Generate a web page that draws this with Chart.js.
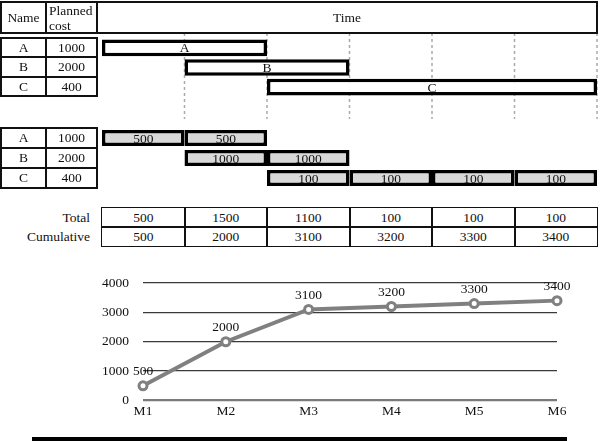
<!DOCTYPE html>
<html><head><meta charset="utf-8">
<script src="https://cdn.jsdelivr.net/npm/chart.js@4.4.1/dist/chart.umd.min.js"></script>
<style>
html,body{margin:0;padding:0;background:#fff;}
#root{position:relative;width:600px;height:441px;overflow:hidden;font-family:"Liberation Serif","Times New Roman",serif;font-size:13.5px;color:#111;}
.c{position:absolute;box-sizing:border-box;border:2px solid #111;display:flex;align-items:center;justify-content:center;line-height:1;}
.t{position:absolute;line-height:1;white-space:nowrap;}
canvas{position:absolute;left:0;}
</style></head><body><div id="root">
<canvas id="g1" width="600" height="86" style="top:33px"></canvas>
<canvas id="g2" width="600" height="70" style="top:123px"></canvas>
<canvas id="lc" width="600" height="170" style="top:260px"></canvas>
<div style="position:absolute;left:32px;top:437px;width:535px;height:4px;background:#000"></div>
</div>
<script>
// ---- data ----
const tasks = ['A', 'B', 'C'];
const plannedCost = [1000, 2000, 400];
const taskStart = [0, 1, 2];              // starting month index
const taskMonthly = [[500, 500], [1000, 1000], [100, 100, 100, 100]];
const months = ['M1', 'M2', 'M3', 'M4', 'M5', 'M6'];
const monthlyTotal = [500, 1500, 1100, 100, 100, 100];
const cumulative = [500, 2000, 3100, 3200, 3300, 3400];
const yTicks = [0, 1000, 2000, 3000, 4000];
const headers = ['Name', 'Planned<br>cost', 'Time'];
const rowLabels = ['Total', 'Cumulative'];

const FONT = '"Liberation Serif","Times New Roman",serif';
const root = document.getElementById('root');
function cell(x1, y1, x2, y2, html, extra) {
  const d = document.createElement('div');
  d.className = 'c';
  d.style.left = (x1 - 1) + 'px'; d.style.top = (y1 - 1) + 'px';
  d.style.width = (x2 - x1 + 2) + 'px'; d.style.height = (y2 - y1 + 2) + 'px';
  d.innerHTML = html;
  if (extra) Object.assign(d.style, extra);
  root.appendChild(d);
}
function text(x, y, html, align) {
  const d = document.createElement('div');
  d.className = 't';
  d.innerHTML = html;
  d.style.top = (y - 7) + 'px';
  if (align === 'right') { d.style.right = (600 - x) + 'px'; }
  else d.style.left = x + 'px';
  root.appendChild(d);
}
// header
cell(1, 2, 46, 33, headers[0]);
cell(46, 2, 97, 33, '<span style="line-height:15px">' + headers[1] + '</span>', {justifyContent: 'flex-start', paddingLeft: '2px'});
cell(97, 2, 597, 33, headers[2]);
// task tables
const rh1 = (96 - 38) / tasks.length, rh2 = (188 - 128) / tasks.length;
tasks.forEach((t, i) => {
  cell(1, 38 + i * rh1, 46, 38 + (i + 1) * rh1, t);
  cell(46, 38 + i * rh1, 97, 38 + (i + 1) * rh1, plannedCost[i]);
  cell(1, 128 + i * rh2, 46, 128 + (i + 1) * rh2, t);
  cell(46, 128 + i * rh2, 97, 128 + (i + 1) * rh2, plannedCost[i]);
});
// totals table
const X0 = 102, X1 = 597, colW = (X1 - X0) / months.length;
[monthlyTotal, cumulative].forEach((arr, r) => {
  arr.forEach((v, k) => cell(X0 + k * colW, 208 + r * 19, X0 + (k + 1) * colW, 208 + (r + 1) * 19, v, {borderWidth: '1.6px'}));
  text(90, 218 + r * 19, rowLabels[r], 'right');
});

// ---- charts ----
const barLabels = {
  id: 'barLabels',
  afterDatasetsDraw(chart) {
    const ctx = chart.ctx;
    ctx.save();
    ctx.font = '13.5px ' + FONT; ctx.fillStyle = '#111';
    ctx.textAlign = 'center'; ctx.textBaseline = 'middle';
    const ds = chart.data.datasets[0];
    chart.getDatasetMeta(0).data.forEach((el, j) => {
      const p = el.getCenterPoint();
      ctx.fillText(ds.data[j].lbl, p.x, p.y + 1);
    });
    ctx.restore();
  }
};
const dashLines = {
  id: 'dashLines',
  beforeDatasetsDraw(chart) {
    const ctx = chart.ctx, xs = chart.scales.x;
    ctx.save();
    ctx.strokeStyle = '#aaaaaa'; ctx.lineWidth = 1.5; ctx.setLineDash([3, 3]);
    for (let v = 1; v <= months.length; v++) {
      const x = xs.getPixelForValue(v);
      ctx.beginPath(); ctx.moveTo(x, 0); ctx.lineTo(x, chart.height); ctx.stroke();
    }
    ctx.restore();
  }
};
function ganttOptions(padTop, padBottom) {
  return {
    indexAxis: 'y', responsive: false, devicePixelRatio: 1, animation: false, events: [],
    layout: {padding: {left: X0, right: 600 - X1, top: padTop, bottom: padBottom}},
    plugins: {legend: {display: false}, tooltip: {enabled: false}},
    scales: {
      x: {type: 'linear', min: 0, max: months.length, display: false},
      y: {type: 'category', labels: tasks, display: false}
    }
  };
}
new Chart(document.getElementById('g1'), {
  type: 'bar',
  data: {datasets: [{
    data: tasks.map((t, i) => ({x: [taskStart[i], taskStart[i] + taskMonthly[i].length], y: t, lbl: t})),
    backgroundColor: '#ffffff', borderColor: '#000', borderWidth: 3.5, borderSkipped: false,
    categoryPercentage: 1, barPercentage: 0.85
  }]},
  options: ganttOptions(5, 22),
  plugins: [dashLines, barLabels]
});
const seg = [];
tasks.forEach((t, i) => taskMonthly[i].forEach((v, k) => seg.push({x: [taskStart[i] + k, taskStart[i] + k + 1], y: t, lbl: String(v)})));
new Chart(document.getElementById('g2'), {
  type: 'bar',
  data: {datasets: [{
    data: seg,
    backgroundColor: '#d9d9d9', borderColor: '#000', borderWidth: 3.5, borderSkipped: false,
    categoryPercentage: 1, barPercentage: 0.8
  }]},
  options: ganttOptions(5, 5),
  plugins: [barLabels]
});

const pointLabels = {
  id: 'pointLabels',
  afterDatasetsDraw(chart) {
    const ctx = chart.ctx;
    ctx.save();
    ctx.font = '13.5px ' + FONT; ctx.fillStyle = '#111';
    ctx.textAlign = 'center'; ctx.textBaseline = 'middle';
    chart.getDatasetMeta(0).data.forEach((el, j) => {
      ctx.fillText(String(cumulative[j]), el.x, el.y - 14);
    });
    ctx.restore();
  }
};
new Chart(document.getElementById('lc'), {
  type: 'line',
  data: {labels: months, datasets: [{
    data: cumulative, borderColor: '#808080', borderWidth: 4, tension: 0, clip: false,
    pointRadius: 4, pointBorderWidth: 3, pointBackgroundColor: '#ffffff', pointBorderColor: '#808080'
  }]},
  options: {
    responsive: false, devicePixelRatio: 1, animation: false, events: [],
    layout: {padding: {left: 0, right: 43, top: 23, bottom: 0}},
    plugins: {legend: {display: false}, tooltip: {enabled: false}},
    scales: {
      x: {offset: false, grid: {display: false, drawTicks: false}, border: {display: false},
          ticks: {padding: 3, color: '#111', font: {family: FONT, size: 13.5}},
          afterFit(s) { s.height = 29.5; }},
      y: {min: 0, max: 4000,
          afterBuildTicks(s) { s.ticks = yTicks.map(v => ({value: v})); },
          grid: {drawTicks: false,
                 color: c => (c.tick && c.tick.value === 0) ? '#7a7a7a' : '#3a3a3a',
                 lineWidth: c => (c.tick && c.tick.value === 0) ? 2.2 : 1.3},
          border: {display: false},
          ticks: {padding: 14, color: '#111', font: {family: FONT, size: 13.5},
                  callback: v => String(v)},
          afterFit(s) { s.width = 143; }}
    }
  },
  plugins: [pointLabels]
});
</script>
</body></html>
